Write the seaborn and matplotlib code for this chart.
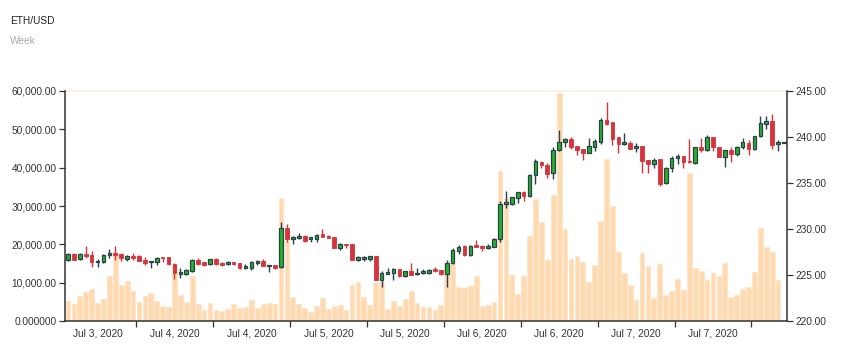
import numpy as np
import pandas as pd
import matplotlib
matplotlib.use("Agg")
import matplotlib.pyplot as plt
import seaborn as sns

sns.set_theme(style="white")
plt.rcParams["font.family"] = ["Liberation Sans", "DejaVu Sans"]

# ---------------- data ----------------
volume = [5200, 4400, 6600, 7600, 8400, 4800, 5700, 11700, 17500, 9400,
          10400, 7800, 5000, 6600, 7200, 5200, 4000, 3700, 14600, 6800,
          5000, 11800, 4400, 3000, 4700, 2900, 2600, 3100, 4400, 3500,
          3600, 5500, 3300, 4400, 4700, 4500, 32100, 21000, 6300, 4400,
          3400, 2400, 3900, 5900, 3200, 3900, 4300, 2900, 9400, 10300,
          6300, 4300, 10000, 10300, 3100, 5200, 4000, 5700, 7900, 4600,
          3700, 3600, 2900, 4300, 15000, 15000, 8900, 8500, 9100, 11700,
          4000, 4300, 5000, 39100, 32000, 12000, 7000, 11800, 22200, 31800,
          25800, 16000, 33000, 59400, 24000, 16300, 17000, 15400, 10200, 14700,
          26100, 42300, 29900, 18000, 12600, 9400, 5500, 17700, 14400, 6100,
          15000, 6800, 7900, 10900, 8200, 38500, 13700, 13000, 10700, 12400,
          11700, 15100, 6300, 6700, 8300, 8900, 12800, 24300, 19300, 18000,
          10700, 200]

open_ = [226.67, 227.25, 226.70, 227.28, 227.14, 226.45, 226.45, 227.14, 227.39, 227.32,
         226.78, 227.07, 227.03, 226.67, 226.43, 226.45, 226.96, 226.92, 226.16, 225.15,
         225.15, 225.44, 226.63, 226.38, 226.16, 226.74, 226.34, 226.20, 226.38, 226.27,
         225.80, 225.80, 226.27, 226.52, 226.02, 226.09, 225.90, 230.07, 228.88, 229.00,
         229.28, 228.88, 228.91, 229.42, 229.28, 229.13, 227.94, 228.37, 228.33, 226.67,
         226.74, 226.70, 227.07, 224.46, 225.15, 225.22, 225.62, 224.89, 225.44, 225.07,
         225.18, 225.25, 225.65, 225.51, 225.15, 226.27, 227.57, 228.12, 227.14, 228.26,
         228.19, 227.97, 228.04, 228.91, 232.68, 232.75, 233.41, 233.99, 233.55, 235.83,
         237.32, 236.99, 236.09, 238.59, 239.45, 239.75, 238.99, 238.66, 238.30, 238.91,
         239.46, 241.81, 241.59, 239.96, 239.24, 239.38, 238.84, 238.99, 237.46, 237.03,
         237.57, 235.04, 236.60, 237.68, 237.90, 237.39, 237.21, 238.91, 238.59, 239.96,
         238.95, 237.86, 238.55, 238.19, 238.95, 239.38, 238.66, 240.07, 241.41, 241.74,
         239.20, 239.35]

high = [227.43, 227.43, 227.43, 228.12, 227.61, 226.74, 227.25, 227.83, 228.19, 227.43,
        227.18, 227.36, 227.18, 226.96, 226.47, 226.96, 226.96, 226.96, 226.27, 225.80,
        225.62, 226.78, 226.85, 226.45, 226.78, 226.81, 226.41, 226.49, 226.45, 226.34,
        226.16, 226.56, 226.63, 226.74, 226.12, 226.09, 230.73, 230.58, 229.28, 229.57,
        229.35, 229.17, 229.46, 229.97, 229.35, 229.17, 228.44, 228.37, 228.37, 227.10,
        227.03, 227.10, 227.07, 225.47, 225.72, 225.72, 225.69, 225.47, 226.27, 225.76,
        225.62, 225.65, 225.87, 225.58, 226.63, 227.97, 228.23, 228.23, 228.26, 228.84,
        228.26, 228.33, 229.02, 233.08, 234.13, 233.51, 234.06, 234.13, 235.94, 237.57,
        237.39, 237.17, 238.95, 240.73, 239.86, 239.96, 239.06, 238.66, 239.93, 239.75,
        242.03, 243.84, 241.59, 239.96, 240.40, 239.57, 239.31, 238.99, 237.46, 237.75,
        237.61, 236.70, 237.93, 238.12, 237.93, 239.75, 238.95, 239.86, 240.22, 239.96,
        238.95, 238.59, 238.91, 239.02, 239.93, 239.67, 240.15, 242.28, 242.25, 242.46,
        239.71, 239.49]

low = [226.52, 226.63, 226.63, 226.88, 225.83, 225.83, 226.34, 226.88, 226.63, 226.49,
       226.56, 226.63, 226.52, 226.12, 225.80, 226.05, 226.38, 226.12, 224.53, 224.71,
       225.00, 225.36, 226.05, 226.01, 226.05, 226.09, 226.01, 226.05, 226.09, 225.65,
       225.65, 225.54, 226.09, 225.94, 225.36, 225.69, 225.72, 228.62, 228.41, 228.91,
       228.59, 228.59, 228.59, 229.17, 228.99, 227.90, 227.75, 227.90, 226.59, 226.56,
       226.56, 226.52, 224.42, 223.73, 225.15, 224.49, 224.82, 224.82, 225.00, 224.96,
       225.11, 225.15, 225.36, 225.04, 223.70, 226.20, 227.25, 227.07, 227.07, 228.04,
       227.61, 227.86, 228.01, 228.62, 232.32, 232.61, 232.79, 233.08, 233.48, 234.86,
       236.60, 235.51, 235.44, 238.48, 238.88, 238.66, 238.04, 237.46, 238.23, 238.44,
       239.28, 241.34, 239.10, 238.23, 239.13, 238.73, 238.41, 236.12, 236.05, 236.67,
       234.71, 234.93, 236.20, 237.03, 236.67, 237.21, 237.10, 238.41, 238.48, 238.44,
       237.86, 236.70, 237.32, 237.97, 238.66, 238.08, 238.59, 239.96, 240.83, 238.66,
       238.48, 239.35]

close = [227.25, 226.67, 227.25, 227.03, 226.41, 226.56, 227.14, 227.39, 227.18, 226.81,
         227.07, 226.85, 226.56, 226.30, 226.47, 226.88, 226.85, 226.16, 225.18, 225.29,
         225.51, 226.63, 226.16, 226.12, 226.70, 226.20, 226.12, 226.41, 226.16, 225.80,
         225.94, 226.41, 226.52, 225.98, 226.12, 225.76, 230.07, 228.88, 229.13, 229.24,
         228.73, 229.10, 229.39, 229.17, 229.02, 227.94, 228.37, 228.23, 226.63, 226.96,
         227.00, 227.03, 224.46, 225.25, 225.36, 225.65, 224.93, 225.40, 225.04, 225.25,
         225.40, 225.58, 225.40, 225.11, 226.30, 227.68, 228.08, 227.14, 228.19, 228.08,
         227.94, 228.15, 228.95, 232.72, 232.90, 233.44, 233.99, 233.55, 235.87, 237.36,
         236.96, 236.02, 238.62, 239.49, 239.82, 238.91, 238.62, 238.30, 239.02, 239.57,
         241.89, 241.41, 239.82, 239.24, 239.46, 238.73, 239.02, 237.39, 237.03, 237.50,
         234.89, 236.60, 237.68, 237.93, 237.32, 237.25, 238.88, 238.59, 239.96, 238.88,
         237.86, 238.55, 238.19, 238.95, 239.46, 238.66, 240.11, 241.48, 241.74, 239.17,
         239.46, 239.46]

x_tick_labels = ["Jul 3, 2020", "Jul 4, 2020", "Jul 4, 2020", "Jul 5, 2020", "Jul 5, 2020",
                 "Jul 6, 2020", "Jul 6, 2020", "Jul 7, 2020", "Jul 7, 2020"]
vol_ticks = [0, 10000, 20000, 30000, 40000, 50000, 60000]
vol_tick_labels = ["0.000000", "10,000.00", "20,000.00", "30,000.00",
                   "40,000.00", "50,000.00", "60,000.00"]
price_ticks = [220, 225, 230, 235, 240, 245]
price_tick_labels = ["220.00", "225.00", "230.00", "235.00", "240.00", "245.00"]

# ---------------- styling ----------------
VOL_COLOR = "#ffdab0"
UP_COLOR = "#22b522"
DOWN_COLOR = "#d4343c"
DARK = "#2b3f4e"
AX_COLOR = "#333333"
TXT = "#333333"
FS = 7.3

W, H = 841, 348
fig = plt.figure(figsize=(W / 100, H / 100), dpi=100)
fig.patch.set_facecolor("white")
L, R, T, B = 65, 787, 91, 321
ax = fig.add_axes([L / W, (H - B) / H, (R - L) / W, (B - T) / H])

n = len(volume)
df = pd.DataFrame({"idx": np.arange(n), "volume": volume})
sns.barplot(data=df, x="idx", y="volume", color=VOL_COLOR, saturation=1,
            width=0.8, ax=ax, edgecolor="#ffe6c8", linewidth=0.6, zorder=1)
ax.set_xlim(-0.5, n - 0.5)
ax.set_ylim(0, 60000)
ax.set_xlabel("")
ax.set_ylabel("")
ax.axhline(60000, color="#fcefe2", lw=1.2, zorder=0, clip_on=False)

# x axis: tick marks at boundaries, labels centred between them
major = [11.5 + 13 * k for k in range(len(x_tick_labels))]
minor = [5 + 13 * k for k in range(len(x_tick_labels))]
ax.set_xticks(major)
ax.set_xticklabels([""] * len(major))
ax.set_xticks(minor, minor=True)
ax.set_xticklabels(x_tick_labels, minor=True)
ax.tick_params(axis="x", which="major", length=4.5, width=0.9, color=AX_COLOR,
               direction="out", bottom=True)
ax.tick_params(axis="x", which="minor", length=0, pad=5.2, labelsize=FS,
               labelcolor=TXT, bottom=True)

ax.set_yticks(vol_ticks)
ax.set_yticklabels(vol_tick_labels)
ax.tick_params(axis="y", length=4.5, width=0.9, color=AX_COLOR, direction="out",
               pad=1.5, labelsize=FS, labelcolor=TXT, left=True)
for s in ["top", "right"]:
    ax.spines[s].set_visible(False)
for s in ["left", "bottom"]:
    ax.spines[s].set_color(AX_COLOR)
    ax.spines[s].set_linewidth(1.1)

# price axis with candles
ax2 = ax.twinx()
ax2.set_ylim(220, 245)
ax2.set_yticks(price_ticks)
ax2.set_yticklabels(price_tick_labels)
ax2.tick_params(axis="y", length=4.5, width=0.9, color=AX_COLOR, direction="out",
                pad=1.5, labelsize=FS, labelcolor=TXT, right=True)
for s in ["top", "left", "bottom"]:
    ax2.spines[s].set_visible(False)
ax2.spines["right"].set_color(AX_COLOR)
ax2.spines["right"].set_linewidth(1.1)

o = np.array(open_)
c = np.array(close)
hi = np.array(high)
lo = np.array(low)
xs = np.arange(n)
up = c >= o
ax2.vlines(xs[up], lo[up], hi[up], color=DARK, lw=1.0, zorder=3)
ax2.vlines(xs[~up], lo[~up], hi[~up], color=DOWN_COLOR, lw=1.0, zorder=3)
bw = 0.62
ax2.bar(xs[up], (c - o)[up], bottom=o[up], width=bw, color=UP_COLOR,
        edgecolor=DARK, linewidth=0.9, zorder=4)
ax2.bar(xs[~up], (o - c)[~up], bottom=c[~up], width=bw, color=DOWN_COLOR,
        edgecolor=DOWN_COLOR, linewidth=0.6, zorder=4)
ax2.set_xlim(-0.5, n - 0.5)

fig.text(10 / W, 1 - 20.5 / H, "ETH/USD", fontsize=FS, color="#222222",
         ha="left", va="center")
fig.text(10 / W, 1 - 41 / H, "Week", fontsize=FS, color="#aaaaaa",
         ha="left", va="center")

fig.savefig("out.png", dpi=100, facecolor="white")
